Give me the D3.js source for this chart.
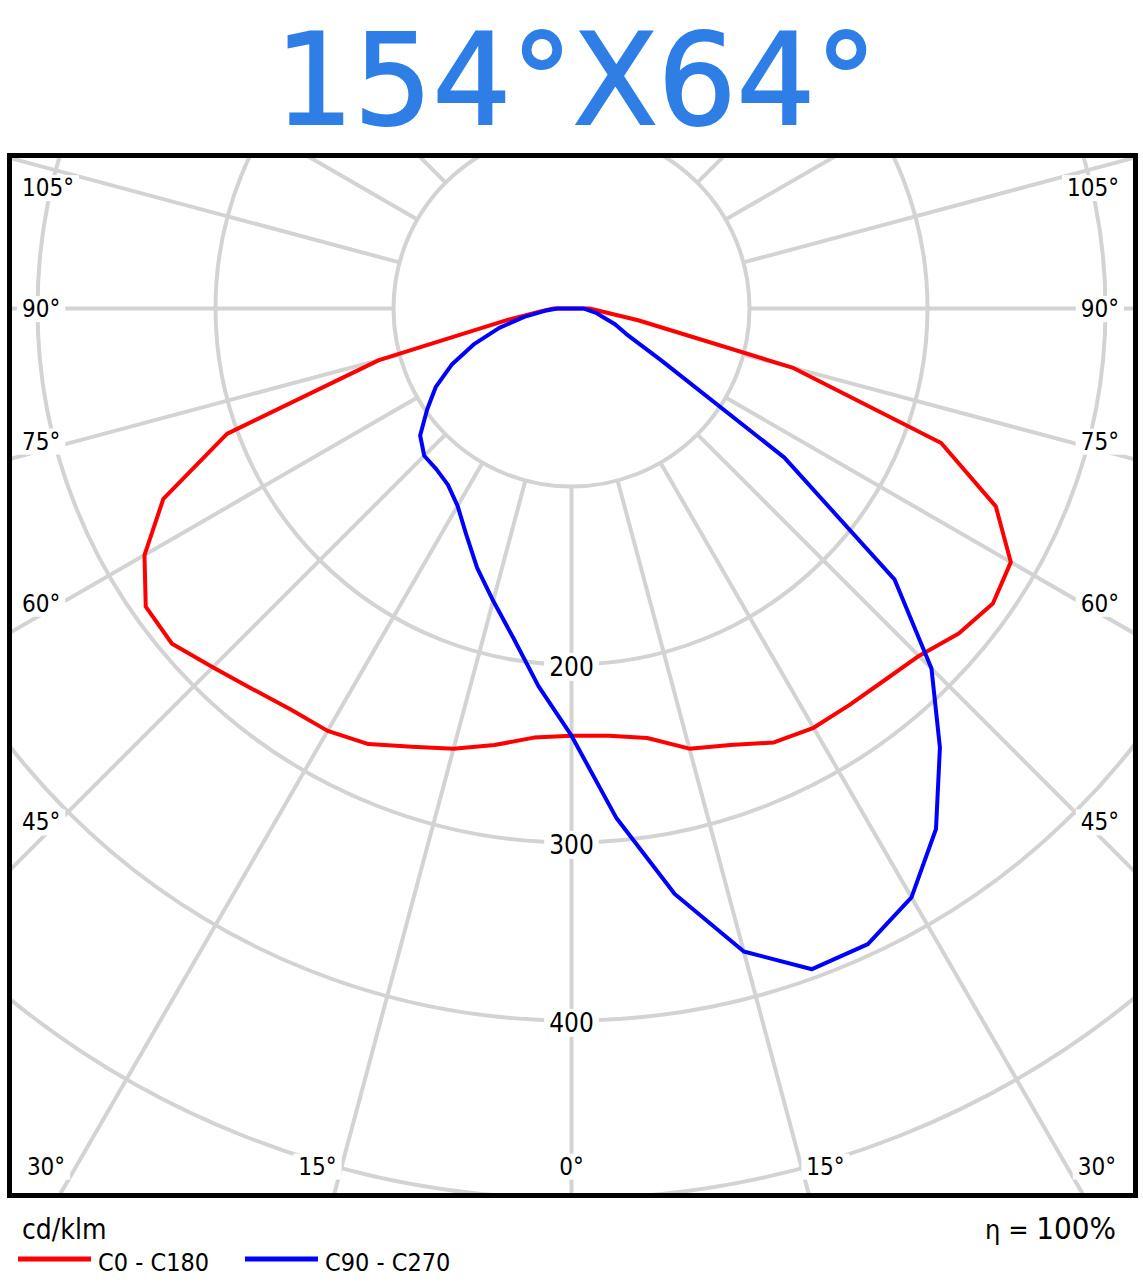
<!DOCTYPE html>
<html>
<head>
<meta charset="utf-8">
<title>154°X64° polar curve</title>
<script src="https://d3js.org/d3.v7.min.js"></script>
<style>
  body { margin: 0; background: white; }
  svg { display: block; }
  text { font-family: 'DejaVu Sans Condensed', 'Liberation Sans', sans-serif; fill: #000; }
</style>
</head>
<body>
<svg id="chart" width="1143" height="1287"></svg>
<script>
// gamma angles (0 = straight down), cd/klm values
const angles = [0, 5, 10, 15, 20, 25, 30, 35, 40, 45, 50, 55, 60, 65, 70, 75, 80, 85, 90];
const c0   = [240, 241, 245, 256, 261, 269, 272, 272, 273, 276, 284, 289, 285, 263, 221, 129, 38, 16, 10];
const c180 = [240, 242, 249, 256, 262, 270, 274, 275, 279, 285, 293, 292, 277, 253, 206, 112, 36, 17, 10];
const c90  = [240, 287, 334, 374, 395, 394, 382, 357, 322, 286, 237, 146, 58, 34, 26, 18, 14, 9, 7];
const c270 = [240, 213, 188, 170, 155, 140, 128, 121, 118, 117, 111, 99, 88, 74, 58, 42, 27, 15, 8];

const rings = [100, 200, 300, 400, 500];
const ringLabels = [200, 300, 400];
const spokeAngles = d3.range(0, 360, 15);
const sideTicks = [45, 60, 75, 90, 105];
const bottomTicks = [0, 15, 30];

const cx = 571.5, cy = 308.5;
const box = { x: 9.5, y: 155.5, w: 1126, h: 1040 };
const rad = Math.PI / 180;
const r = d3.scaleLinear().domain([0, 100]).range([0, 178]);
const gridColor = "#d3d3d3";

const svg = d3.select("#chart");

// title
svg.append("text")
  .attr("x", 576).attr("y", 124)
  .attr("text-anchor", "middle")
  .attr("textLength", 602).attr("lengthAdjust", "spacingAndGlyphs")
  .style("font-family", "'DejaVu Sans', sans-serif")
  .style("font-size", "127px")
  .style("fill", "#2e7ee6")
  .style("stroke", "#2e7ee6").style("stroke-width", 2)
  .text("154°X64°");

svg.append("clipPath").attr("id", "plotClip")
  .append("rect")
  .attr("x", box.x).attr("y", box.y).attr("width", box.w).attr("height", box.h);

const plot = svg.append("g").attr("clip-path", "url(#plotClip)");

// grid: rings and spokes (spokes start on the inner ring)
plot.append("g").selectAll("circle").data(rings).join("circle")
  .attr("cx", cx).attr("cy", cy).attr("r", d => r(d))
  .attr("fill", "none").attr("stroke", gridColor).attr("stroke-width", 4);

plot.append("g").selectAll("line").data(spokeAngles).join("line")
  .attr("x1", a => cx + r(100) * Math.sin(a * rad))
  .attr("y1", a => cy + r(100) * Math.cos(a * rad))
  .attr("x2", a => cx + r(800) * Math.sin(a * rad))
  .attr("y2", a => cy + r(800) * Math.cos(a * rad))
  .attr("stroke", gridColor).attr("stroke-width", 4);

// labels with white backing
const labels = plot.append("g");
function addLabel(x, y, txt, anchor, size) {
  const t = labels.append("text")
    .attr("x", x).attr("y", y).attr("dy", "0.36em")
    .attr("text-anchor", anchor)
    .style("font-size", size + "px")
    .text(txt);
  const bb = t.node().getBBox();
  labels.insert("rect", () => t.node())
    .attr("x", bb.x - 5).attr("y", bb.y + 1)
    .attr("width", bb.width + 10).attr("height", bb.height - 2)
    .attr("fill", "white");
}

const sideNudge = 1.0, bottomNudge = 1.5;
sideTicks.forEach(a => {
  const phi = (a + (a < 90 ? sideNudge : a > 90 ? -sideNudge : 0)) * rad;
  let y = cy + (cx - 40) * Math.cos(phi) / Math.sin(phi);
  y = Math.max(y, box.y + 32);
  addLabel(22, y, a + "°", "start", 24);
  addLabel(1119, y, a + "°", "end", 24);
});
bottomTicks.forEach(a => {
  const phi = (a === 0 ? 0 : a + bottomNudge) * rad;
  const yb = 1166;
  const dx = (yb - cy) * Math.tan(phi);
  addLabel(cx - dx, yb, a + "°", "middle", 24);
  if (a !== 0) addLabel(cx + dx, yb, a + "°", "middle", 24);
});
ringLabels.forEach(v => addLabel(cx, cy + r(v) + 2, String(v), "middle", 26));

// light distribution curves
const polar = d3.lineRadial()
  .angle(d => d[0])
  .radius(d => r(d[1]))
  .curve(d3.curveLinearClosed);

function planePoints(left, right) {
  const pts = [];
  for (let i = angles.length - 1; i >= 0; i--) pts.push([Math.PI + angles[i] * rad, left[i]]);
  for (let i = 0; i < angles.length; i++) pts.push([Math.PI - angles[i] * rad, right[i]]);
  return pts;
}

const curves = plot.append("g").attr("transform", `translate(${cx},${cy})`);
curves.append("path")
  .attr("d", polar(planePoints(c180, c0)))
  .attr("fill", "none").attr("stroke", "#ff0000").attr("stroke-width", 4)
  .attr("stroke-linejoin", "round");
curves.append("path")
  .attr("d", polar(planePoints(c270, c90)))
  .attr("fill", "none").attr("stroke", "#0000ff").attr("stroke-width", 4)
  .attr("stroke-linejoin", "round");

// frame
svg.append("rect")
  .attr("x", box.x).attr("y", box.y).attr("width", box.w).attr("height", box.h)
  .attr("fill", "none").attr("stroke", "#000").attr("stroke-width", 5);

// unit + legend
svg.append("text").attr("x", 22).attr("y", 1239)
  .style("font-size", "28px").text("cd/klm");

const legend = [
  { name: "C0 - C180", color: "#ff0000", x: 18 },
  { name: "C90 - C270", color: "#0000ff", x: 245 }
];
const lg = svg.append("g");
lg.selectAll("line").data(legend).join("line")
  .attr("x1", d => d.x).attr("x2", d => d.x + 73)
  .attr("y1", 1259).attr("y2", 1259)
  .attr("stroke", d => d.color).attr("stroke-width", 5);
lg.selectAll("text").data(legend).join("text")
  .attr("x", d => d.x + 80).attr("y", 1271)
  .style("font-size", "25px")
  .text(d => d.name);

const eta = svg.append("text").attr("x", 1116).attr("y", 1239).attr("text-anchor", "end");
eta.append("tspan").style("font-size", "27px").text("η = ");
eta.append("tspan").style("font-size", "31px").text("100%");
</script>
</body>
</html>
